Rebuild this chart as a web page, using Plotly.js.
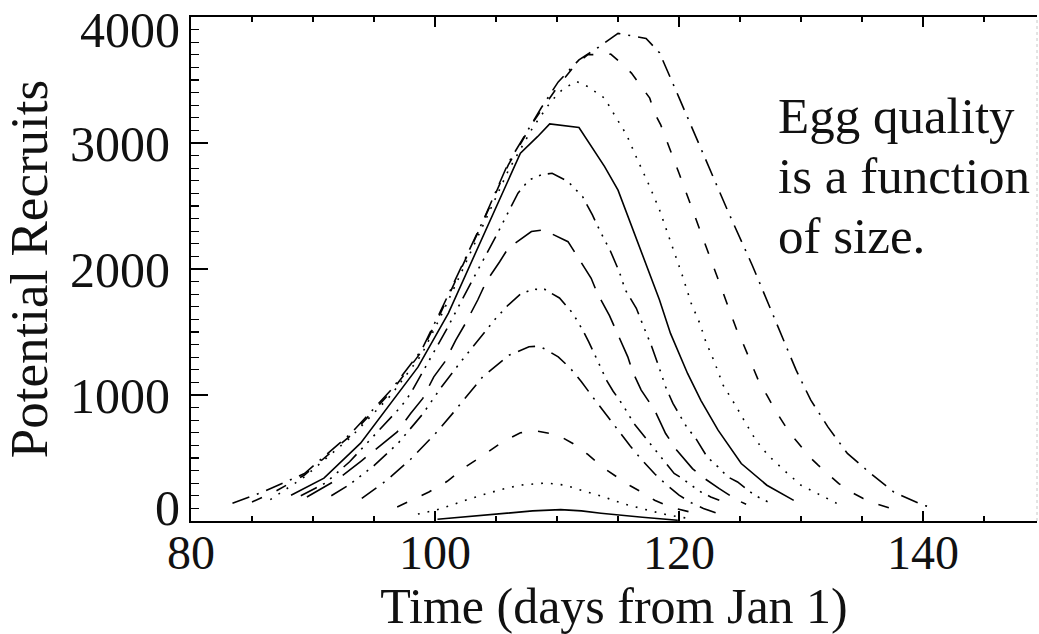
<!DOCTYPE html>
<html>
<head>
<meta charset="utf-8">
<script src="https://cdn.plot.ly/plotly-3.0.1.min.js"></script>
<style>
html,body{margin:0;padding:0;background:#fff;overflow:hidden;}
#chart{width:1039px;height:634px;}
</style>
</head>
<body>
<div id="chart"></div>
<script>
// ---- data (day of year, potential recruits) ----
const days1 = [100.2,102,104,106,108,110.3,112,113.6,115,117,119.9];
const recr1 = [14,28,45,62,80,90,80,62,48,30,6];

const days2 = [98.6,100,101.2,102.5,104,105.5,107,109.1,110.6,112.2,113.8,115.4,116.9,118.5,120,121];
const recr2 = [55,85,120,165,210,252,285,302,285,240,192,138,98,60,32,18];

const days3 = [96.9,98,99.5,101,102.5,104,105.5,107,108.4,110,111.3,112.5,113.9,115.1,116,117.2,118,119.3,120.5,121.8];
const recr3 = [111,160,230,315,430,525,625,700,713,685,615,530,416,337,280,215,165,110,80,50];

const days4 = [94,96,98,100,101.5,102.7,103.9,104.6,106.1,107.7,108.5,109,110.1,111.1,112,113,114,115,116,117,118,119,120,121,122,123];
const recr4 = [180,320,490,690,860,1000,1144,1200,1317,1383,1388,1365,1303,1211,1105,975,845,715,595,480,375,285,205,145,100,65];

const days5 = [91.5,93,95,97,99,100.5,102,103.5,105,106,107,108,109,110.2,111.3,112.1,112.6,113.3,114.1,114.6,115.4,116.3,117.2,117.7,118.3,119.2,119.6,120.3,120.8,121.8,122.6,123.3];
const recr5 = [200,290,440,620,850,1060,1250,1430,1610,1714,1800,1839,1838,1770,1648,1516,1422,1277,1110,1030,920,774,668,602,535,429,377,337,297,230,191,164];

const days6 = [89.5,92,94,96.9,98,99,99.9,100.8,101.7,102.5,103.5,104.2,105.3,106,107.9,108.9,110.9,111.6,112.8,113.3,114.3,115.8,116.2,116.9,118,118.9,119.8,121.1,122.1,123.3,124.8,125.5];
const recr6 = [190,330,480,707,853,973,1144,1263,1436,1569,1754,1900,2058,2165,2297,2310,2217,2110,1926,1807,1630,1303,1184,1039,880,694,564,416,337,257,164,133];

const days7 = [89,91,93,95,97.2,98,98.9,101,103,105,106.8,107.7,108.7,109.6,110.9,112.1,112.9,113.6,114.4,115.1,115.6,116.5,117.1,117.7,118.3,118.9,119.5,120.3,120.7,121.3,122.3,123.2,124,124.8,126.2,127.3];
const recr7 = [200,300,470,680,906,1012,1171,1530,1900,2260,2602,2707,2747,2760,2694,2574,2429,2286,2137,1979,1833,1688,1541,1400,1237,1065,933,800,734,667,509,429,350,310,204,151];

const days8 = [88.2,90.9,93.9,96.4,98.6,101.1,103,105,107,108.4,109.4,111.8,113.9,115,116,117,118.4,119.3,120.7,121.8,123.2,125.1,127.2,129.4];
const recr8 = [205,340,618,935,1221,1650,2060,2490,2919,3050,3152,3123,2813,2626,2370,2100,1754,1489,1171,956,721,456,284,164];

const days9 = [86.5,89.3,93.1,96.4,98.9,100.5,102,104,106,108,109.5,110.5,111.6,112.5,113.9,114.7,115.7,116.6,117.6,118.4,119.5,120.3,121,121.7,122.2,122.9,123.6,124.3,124.7,125.4,126.3,127.3,128.6,130,131.4,132.7,133.5];
const recr9 = [170,350,665,1000,1320,1630,1940,2360,2780,3120,3330,3430,3488,3449,3356,3224,3065,2866,2654,2469,2170,1940,1727,1569,1422,1263,1080,975,906,787,641,522,403,284,218,151,111];

const days10 = [85,87,89.3,93.1,96.4,98.9,100.5,102,104,106,108,110,111.5,112.5,114.4,115.4,116.1,116.9,117.6,118,118.5,120,122,123.9,124.3,124.8,125.2,125.7,126.1,126.6,127.2,127.8,128.4,129.1,129.8,130.7,131.4,132.5,133.1,134.1,135.1,136.3,137.4];
const recr10 = [150,240,365,680,1025,1345,1660,1975,2390,2825,3160,3440,3620,3700,3705,3621,3555,3449,3356,3237,3144,2760,2230,1727,1634,1499,1420,1300,1213,1094,999,893,800,694,615,509,443,350,297,230,178,133,98];

const days11 = [83.4,86,89.3,93.1,96.4,98.9,100.5,102,104,106,107.3,108.7,110.1,111.8,113.4,115,117.3,118.4,120,122,124,126,127.3,128.5,129.6,130.8,132.2,133.8,135.7,137.6,140,140.9];
const recr11 = [140,235,377,694,1040,1357,1675,1990,2396,2840,3048,3278,3485,3660,3760,3870,3830,3716,3360,2910,2460,2030,1727,1462,1197,959,747,536,377,230,125,106];

const allDays = [days1,days2,days3,days4,days5,days6,days7,days8,days9,days10,days11];
const allRecr = [recr1,recr2,recr3,recr4,recr5,recr6,recr7,recr8,recr9,recr10,recr11];

const yTickVals = [0,1000,2000,3000,4000];
const yTickText = ['', '1000', '2000', '3000', ''];
const xTickVals = [80,100,120,140];
const noteLines = ['Egg quality', 'is a function', 'of size.'];

// ---- styles ----
const DOT = '1.8px,8px';
const DASH = '11px,16px';
const DASHDOT = '18px,8px,2px,8px';
const DASH3DOT = '18px,7px,2px,7px,2px,7px,2px,7px';
const LONGDASH = '29px,13px';
const styles = ['solid', DOT, DASH, DASHDOT, DASH3DOT, LONGDASH, DASH3DOT, 'solid', DOT, DASH, DASHDOT];

const SERIF = '"Liberation Serif", "Times New Roman", Times, serif';

const traces = allDays.map((d, i) => ({
  x: d, y: allRecr[i], type: 'scatter', mode: 'lines',
  line: {color: '#000', width: 1.6, dash: styles[i]},
  hoverinfo: 'skip', showlegend: false
}));

const annots = noteLines.map((t, i) => ({
  text: t, xref: 'paper', yref: 'paper',
  x: 0.6915, y: [0.804, 0.685, 0.566][i],
  xanchor: 'left', yanchor: 'middle', showarrow: false,
  font: {family: SERIF, size: 51, color: '#111'}
}));
annots.push({
  text: '0', xref: 'paper', yref: 'y', x: 0, y: 0,
  xanchor: 'right', yanchor: 'middle', xshift: -9, yshift: 13, showarrow: false,
  font: {family: SERIF, size: 50, color: '#111'}
});
annots.push({
  text: '4000', xref: 'paper', yref: 'y', x: 0, y: 4000,
  xanchor: 'right', yanchor: 'middle', xshift: -9, yshift: -13, showarrow: false,
  font: {family: SERIF, size: 50, color: '#111'}
});

const layout = {
  width: 1039, height: 634,
  margin: {l: 191, r: 2, t: 17, b: 113},
  paper_bgcolor: '#fff', plot_bgcolor: '#fff',
  font: {family: SERIF, color: '#111'},
  xaxis: {
    range: [80, 149.34], tickvals: xTickVals,
    ticks: 'inside', ticklen: 10, tickwidth: 1.5, tickcolor: '#000',
    minor: {dtick: 5, tick0: 80, ticks: 'inside', ticklen: 5, tickwidth: 1.2, tickcolor: '#000', showgrid: false},
    showline: true, linewidth: 2, linecolor: '#000', mirror: 'allticks',
    showgrid: false, zeroline: false,
    tickfont: {family: SERIF, size: 48, color: '#111'},
    ticklabelstandoff: -12,
    title: {text: 'Time (days from Jan 1)', font: {family: SERIF, size: 50, color: '#111'}, standoff: 2}
  },
  yaxis: {
    range: [0, 4000], tickvals: yTickVals, ticktext: yTickText,
    ticks: 'inside', ticklen: 17, tickwidth: 1.5, tickcolor: '#000',
    minor: {dtick: 100, tick0: 0, ticks: 'inside', ticklen: 8, tickwidth: 1.2, tickcolor: '#000', showgrid: false},
    showline: true, linewidth: 2, linecolor: '#000', mirror: false,
    showgrid: false, zeroline: false,
    tickfont: {family: SERIF, size: 50, color: '#111'},
    ticklabelstandoff: 9,
    title: {text: 'Potential Recruits', font: {family: SERIF, size: 53, color: '#111'}, standoff: 14}
  },
  shapes: [{
    type: 'line', xref: 'paper', yref: 'paper', x0: 1, x1: 1, y0: 0, y1: 1,
    line: {color: '#c8c8c8', width: 1, dash: 'dot'}
  }],
  annotations: annots
};

Plotly.newPlot('chart', traces, layout, {staticPlot: true, displayModeBar: false});
</script>
</body>
</html>
